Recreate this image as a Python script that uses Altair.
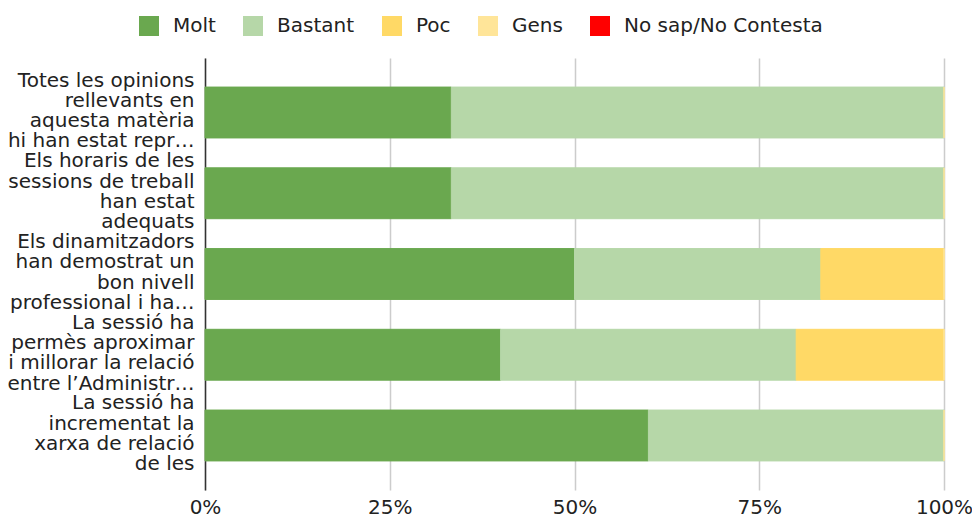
import altair as alt
import pandas as pd

categories = [
    "Totes les opinions\nrellevants en\naquesta matèria\nhi han estat repr…",
    "Els horaris de les\nsessions de treball\nhan estat\nadequats",
    "Els dinamitzadors\nhan demostrat un\nbon nivell\nprofessional i ha…",
    "La sessió ha\npermès aproximar\ni millorar la relació\nentre l’Administr…",
    "La sessió ha\nincrementat la\nxarxa de relació\nde les",
]
responses = ["Molt", "Bastant", "Poc", "Gens", "No sap/No Contesta"]
colors = ["#6aa84f", "#b6d7a8", "#ffd966", "#ffe599", "#ff0000"]

molt = [1, 1, 3, 2, 3]
bastant = [2, 2, 2, 2, 2]
poc = [0, 0, 1, 1, 0]
gens = [0, 0, 0, 0, 0]

rows = []
for i, c in enumerate(categories):
    for r, v, o in [("Molt", molt[i], 0), ("Bastant", bastant[i], 1), ("Poc", poc[i], 2), ("Gens", gens[i], 3)]:
        if r == "Poc" and v == 0:
            continue
        rows.append({"cat": c, "resp": r, "val": v, "ord": o})
df = pd.DataFrame(rows)

color_scale = alt.Scale(domain=responses, range=colors)
FONT = "DejaVu Sans"

chart = alt.Chart(df).mark_bar(strokeWidth=1).encode(
    y=alt.Y("cat:N", sort=categories, title=None,
            scale=alt.Scale(paddingInner=0.37, paddingOuter=0.36),
            axis=alt.Axis(labelExpr="split(datum.label, '\\n')", labelLimit=400,
                          labelFontSize=20, labelColor="#222", labelPadding=11,
                          labelOffset=-32, labelBaseline="middle",
                          ticks=False, domainColor="#333", domainWidth=1.5,
                          labelLineHeight=20.3, labelFont=FONT)),
    x=alt.X("val:Q", stack="normalize", title=None,
            scale=alt.Scale(domain=[0, 1]),
            axis=alt.Axis(format="%", values=[0, 0.25, 0.5, 0.75, 1], domain=False, ticks=False,
                          gridColor="#cccccc", gridWidth=1.5, labelFontSize=20, labelColor="#222",
                          labelPadding=7, labelFont=FONT, labelFlush=False)),
    color=alt.Color("resp:N", scale=color_scale, title=None,
                    legend=alt.Legend(orient="none", legendX=-66, legendY=-42,
                                      direction="horizontal", labelFontSize=20,
                                      labelFont=FONT, labelColor="#222", labelLimit=400,
                                      symbolType="square", symbolSize=400, symbolStrokeWidth=0,
                                      columnPadding=27, labelOffset=14)),
    stroke=alt.Color("resp:N", scale=color_scale, legend=None),
    order=alt.Order("ord:Q"),
).properties(width=739, height=432,
             autosize=alt.AutoSizeParams(type="none"),
             padding={"left": 197, "top": 50, "right": 28, "bottom": 28}).configure_view(stroke=None)

chart.save("out.html", embed_options={"renderer": "svg", "actions": False})
